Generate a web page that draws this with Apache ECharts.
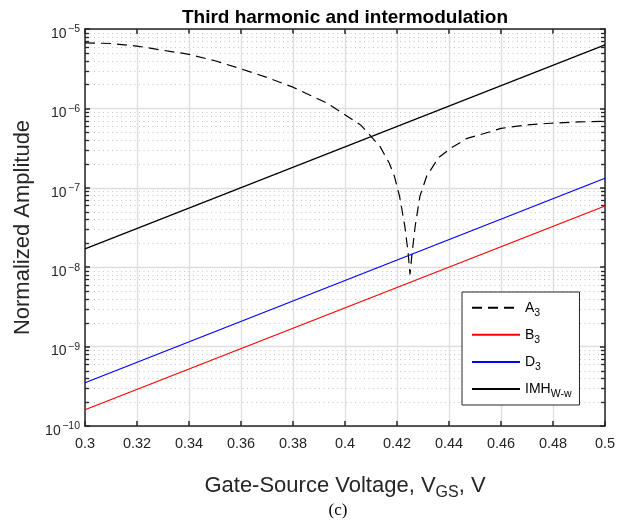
<!DOCTYPE html>
<html>
<head>
<meta charset="utf-8">
<script src="https://cdn.jsdelivr.net/npm/echarts@6/dist/echarts.min.js"></script>
<style>
  html, body { margin: 0; padding: 0; background: #ffffff; }
  #chart { width: 629px; height: 525px; }
</style>
</head>
<body>
<div id="chart"></div>
<script>
// Gate-source voltage (V) for the straight power-law terms
const vgsLine = [0.3, 0.5];
const b3 = [1.6e-10, 5.9e-8];
const d3 = [3.5e-10, 1.32e-7];
const imh = [1.7e-8, 6.3e-6];

// Third-harmonic coefficient A3, with its notch near 0.425 V
const vgsA3 = [0.300, 0.310, 0.320, 0.3315, 0.340, 0.350, 0.360, 0.370, 0.380, 0.393, 0.399,
               0.406, 0.410, 0.4135, 0.417, 0.419, 0.421, 0.423, 0.4243, 0.425, 0.4257,
               0.427, 0.4288, 0.4314, 0.436, 0.441, 0.447, 0.456, 0.460, 0.470, 0.479,
               0.490, 0.500];
const a3 = [6.7e-6, 6.57e-6, 6.1e-6, 5.3e-6, 4.8e-6, 3.98e-6, 3.15e-6, 2.45e-6, 1.85e-6, 1.17e-6, 8.7e-7,
            6.2e-7, 4.45e-7, 3.3e-7, 2.05e-7, 1.4e-7, 7.8e-8, 3.3e-8, 1.5e-8, 8.1e-9, 1.4e-8,
            3.3e-8, 7.8e-8, 1.4e-7, 2.4e-7, 3.2e-7, 4.2e-7, 5.1e-7, 5.6e-7, 6.2e-7, 6.5e-7,
            6.75e-7, 6.9e-7];

// Axis ticks
const xMin = 0.3, xMax = 0.5, xStep = 0.02;
const xTickLabels = ['0.3', '0.32', '0.34', '0.36', '0.38', '0.4', '0.42', '0.44', '0.46', '0.48', '0.5'];
const yMin = 1e-10, yMax = 1e-5;
const yDecades = [-10, -9, -8, -7, -6];
const yMinorMultipliers = [2, 3, 4, 5, 6, 7, 8, 9];

const legendLabels = {
  'A3': 'A{sub|3}',
  'B3': 'B{sub|3}',
  'D3': 'D{sub|3}',
  'IMH': 'IMH{sub|W-w}'
};

const minorValues = [];
yDecades.forEach(function (e) {
  yMinorMultipliers.forEach(function (m) { minorValues.push([xMin, m * Math.pow(10, e)]); });
});

const axisColor = '#262626';
const gridColor = '#dedede';
const font = "'Liberation Sans', Arial, sans-serif";

function pairs(xs, ys) { return xs.map(function (x, i) { return [x, ys[i]]; }); }

const chart = echarts.init(document.getElementById('chart'), null, { renderer: 'canvas' });

chart.setOption({
  backgroundColor: '#ffffff',
  animation: false,
  title: [
    {
      text: 'Third harmonic and intermodulation',
      left: 340, top: 3, textAlign: 'center',
      textStyle: { fontFamily: font, fontWeight: 'bold', fontSize: 19, color: '#000000' }
    },
    {
      text: '(c)',
      left: 333, top: 497, textAlign: 'center',
      textStyle: { fontFamily: "'Liberation Serif', 'Times New Roman', serif", fontWeight: 'normal', fontSize: 17, color: '#000000' }
    }
  ],
  grid: { left: 85, right: 24, top: 29, bottom: 99, containLabel: false },
  legend: {
    data: ['A3', 'B3', 'D3', 'IMH'],
    orient: 'vertical',
    left: 462, top: 292,
    padding: [8.7, 8, 5, 9],
    itemWidth: 48, itemHeight: 14, itemGap: 9.1,
    backgroundColor: '#ffffff',
    borderColor: axisColor, borderWidth: 1,
    itemStyle: { opacity: 0 },
    formatter: function (name) { return legendLabels[name]; },
    textStyle: {
      fontFamily: font, fontSize: 14, color: '#000000',
      rich: { sub: { fontFamily: font, fontSize: 10.5, color: '#000000', padding: [11, 0, 0, 0] } }
    }
  },
  xAxis: [
    {
      type: 'value', position: 'bottom',
      min: xMin, max: xMax, interval: xStep,
      name: 'Gate-Source Voltage, V{sub|GS}, V',
      nameLocation: 'middle', nameGap: 44,
      nameTextStyle: {
        fontFamily: font, fontSize: 22, color: axisColor,
        rich: { sub: { fontFamily: font, fontSize: 16, color: axisColor, padding: [15, 0, 0, 0] } }
      },
      axisLine: { show: true, onZero: false, lineStyle: { color: axisColor, width: 1.5 } },
      axisTick: { show: true, inside: true, length: 5, lineStyle: { color: axisColor, width: 1.5 } },
      axisLabel: {
        margin: 10, fontFamily: font, fontSize: 14.5, color: axisColor,
        formatter: function (v, i) { return xTickLabels[i]; }
      },
      splitLine: { show: true, lineStyle: { color: gridColor, width: 1.3 } }
    },
    {
      type: 'value', position: 'top',
      min: xMin, max: xMax, interval: xStep,
      axisLine: { show: true, onZero: false, lineStyle: { color: axisColor, width: 1.5 } },
      axisTick: { show: true, inside: true, length: 5, lineStyle: { color: axisColor, width: 1.5 } },
      axisLabel: { show: false },
      splitLine: { show: false }
    }
  ],
  yAxis: [
    {
      type: 'log', logBase: 10, position: 'left',
      min: yMin, max: yMax,
      name: 'Normalized Amplitude',
      nameLocation: 'middle', nameGap: 50, nameRotate: 90,
      nameTextStyle: { fontFamily: font, fontSize: 22, color: axisColor },
      axisLine: { show: true, onZero: false, lineStyle: { color: axisColor, width: 1.5 } },
      axisTick: { show: true, inside: true, length: 5, lineStyle: { color: axisColor, width: 1.5 } },
      axisLabel: {
        margin: 5, fontFamily: font, fontSize: 14, color: axisColor,
        padding: [10, 0, 0, 0],
        formatter: function (v) { return '10{sup|\u2212' + Math.abs(Math.round(Math.log10(v))) + '}'; },
        rich: { sup: { fontFamily: font, fontSize: 10.5, color: axisColor, padding: [0, 0, 9, 1.5] } }
      },
      splitLine: { show: true, lineStyle: { color: gridColor, width: 1.3 } }
    },
    {
      type: 'log', logBase: 10, position: 'right',
      min: yMin, max: yMax,
      axisLine: { show: true, onZero: false, lineStyle: { color: axisColor, width: 1.5 } },
      axisTick: { show: true, inside: true, length: 5, lineStyle: { color: axisColor, width: 1.5 } },
      axisLabel: { show: false },
      splitLine: { show: false }
    }
  ],
  series: [
    {
      // dotted minor grid plus inside minor ticks on both vertical edges
      type: 'custom', name: 'minor', silent: true, z: 1,
      xAxisIndex: 0, yAxisIndex: 0,
      data: minorValues,
      renderItem: function (params, api) {
        const cs = params.coordSys;
        const y = Math.round(api.coord([api.value(0), api.value(1)])[1]) + 0.5;
        return {
          type: 'group',
          children: [
            { type: 'line', shape: { x1: cs.x, y1: y, x2: cs.x + cs.width, y2: y },
              style: { stroke: '#c4c4c4', lineWidth: 1, lineDash: [1, 3.5] } },
            { type: 'line', shape: { x1: cs.x, y1: y, x2: cs.x + 4, y2: y },
              style: { stroke: axisColor, lineWidth: 1.3 } },
            { type: 'line', shape: { x1: cs.x + cs.width - 4, y1: y, x2: cs.x + cs.width, y2: y },
              style: { stroke: axisColor, lineWidth: 1.3 } }
          ]
        };
      }
    },
    {
      name: 'A3', type: 'line', data: pairs(vgsA3, a3),
      symbol: 'none', z: 3,
      lineStyle: { color: '#000000', width: 1.2, type: [10, 6] },
      itemStyle: { color: '#000000' }
    },
    {
      name: 'B3', type: 'line', data: pairs(vgsLine, b3),
      symbol: 'none', z: 3,
      lineStyle: { color: '#ff0000', width: 1.2 },
      itemStyle: { color: '#ff0000' }
    },
    {
      name: 'D3', type: 'line', data: pairs(vgsLine, d3),
      symbol: 'none', z: 3,
      lineStyle: { color: '#0000ff', width: 1.2 },
      itemStyle: { color: '#0000ff' }
    },
    {
      name: 'IMH', type: 'line', data: pairs(vgsLine, imh),
      symbol: 'none', z: 3,
      lineStyle: { color: '#000000', width: 1.2 },
      itemStyle: { color: '#000000' }
    }
  ]
});
</script>
</body>
</html>
